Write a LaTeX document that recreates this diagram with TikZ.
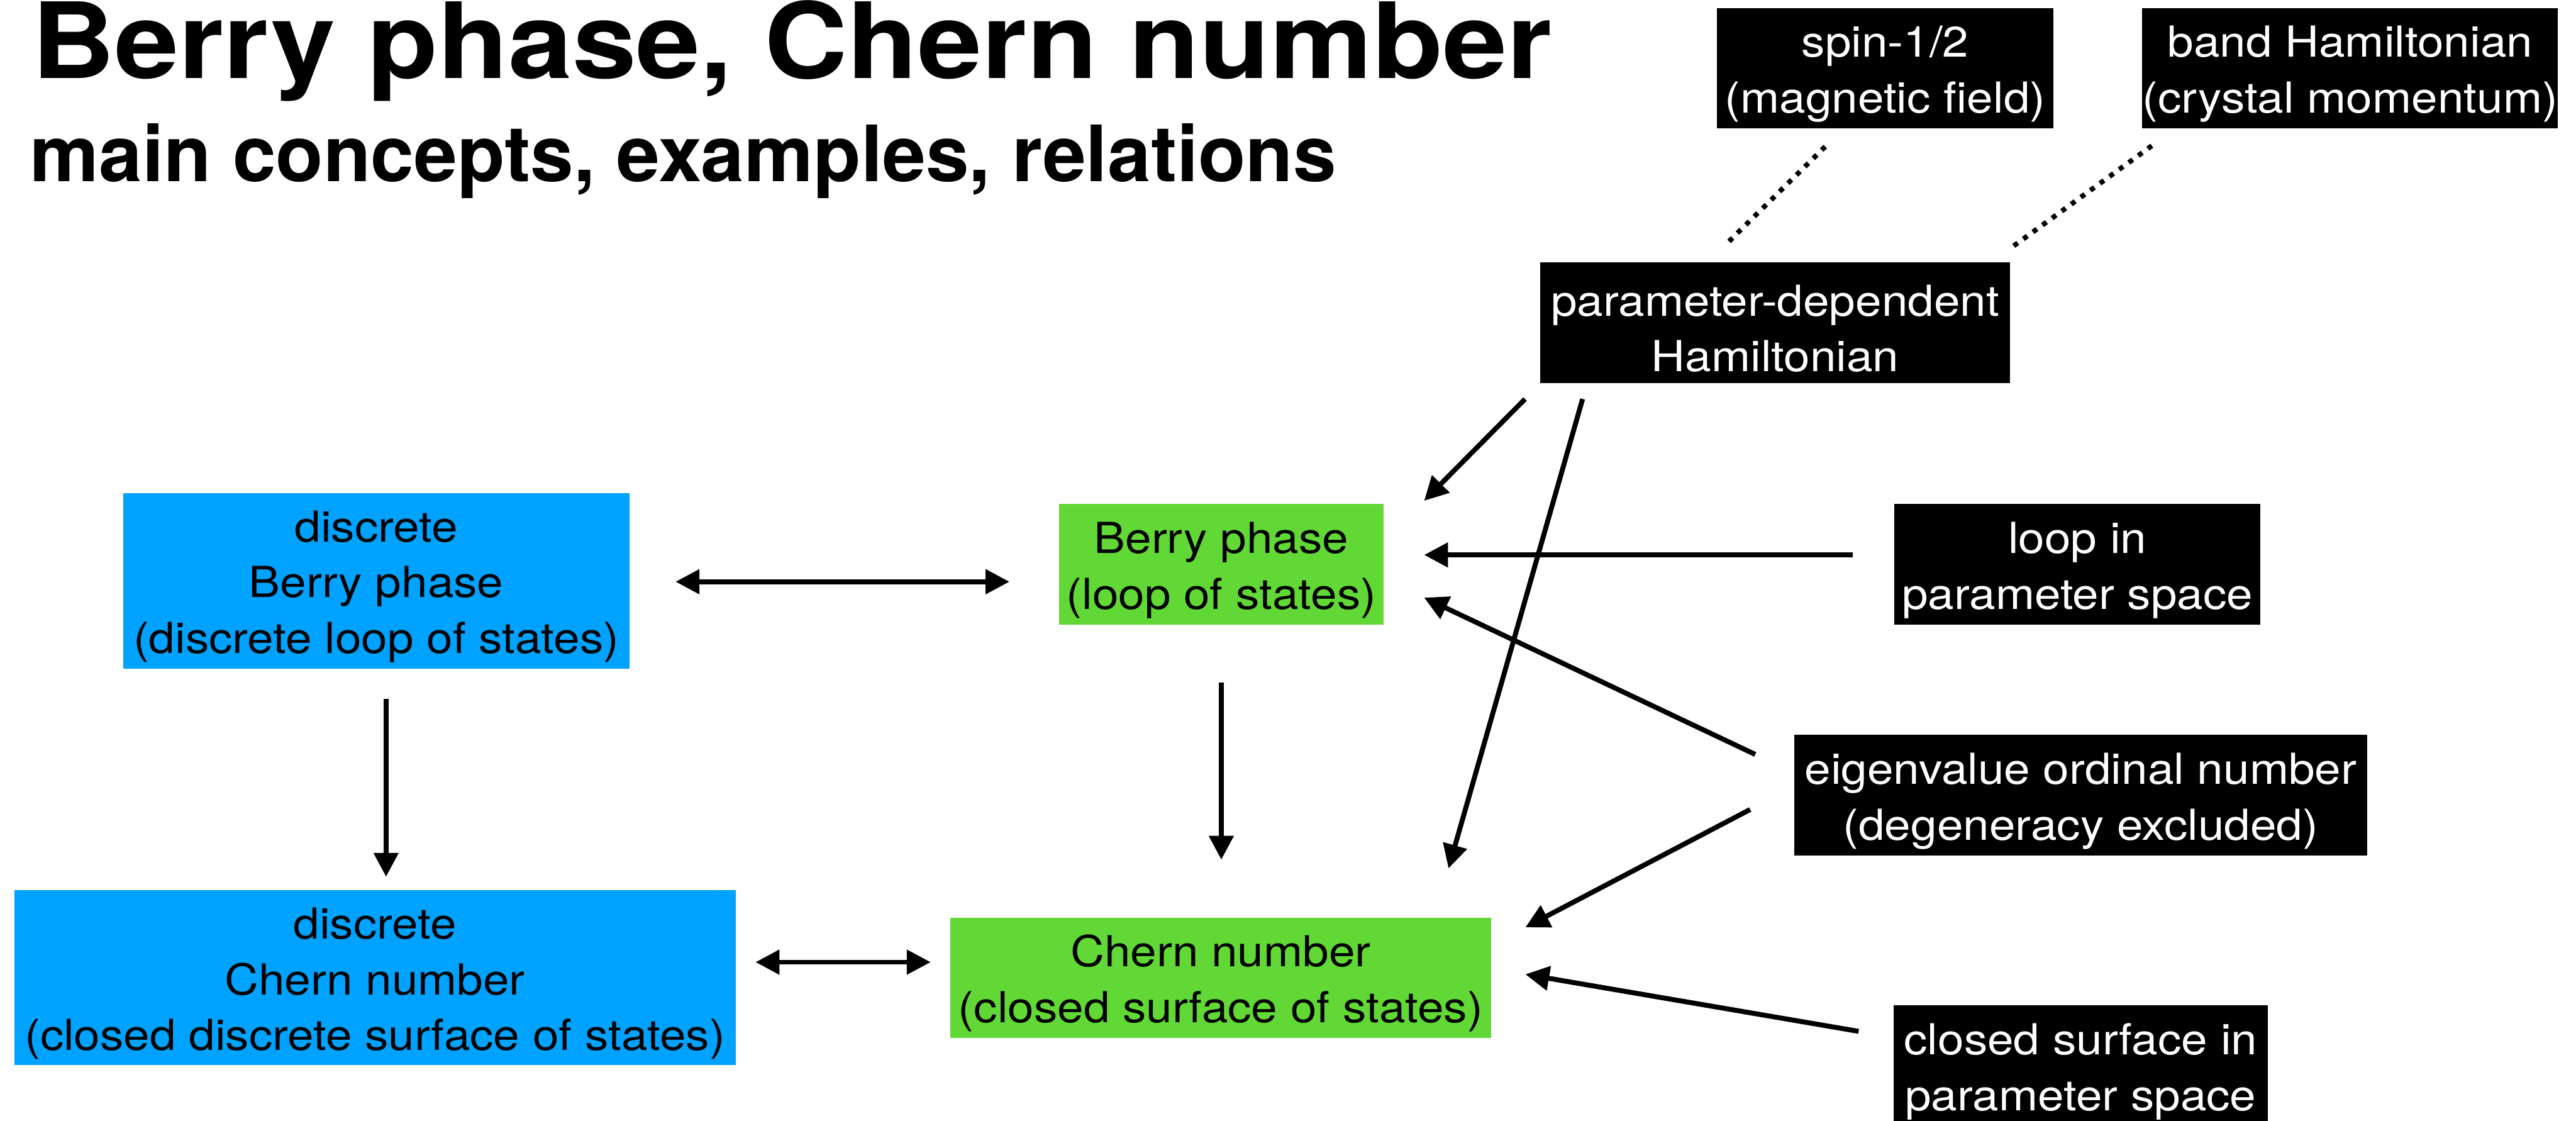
\documentclass[tikz,border=0pt]{standalone}
\usepackage{fontspec}
\setmainfont[FakeStretch=1.1]{TeX Gyre Heros}
\newfontfamily\headfont[FakeStretch=1.096]{TeX Gyre Heros}
\newfontfamily\subfont{TeX Gyre Heros}
\usetikzlibrary{arrows.meta}
\definecolor{kblue}{HTML}{00A2FF}
\definecolor{kgreen}{HTML}{61D836}
% taller first line, so the text sits a bit low in its box
\newcommand\lift{\rule{0pt}{26pt}}

\begin{document}
\begin{tikzpicture}[x=1pt,y=-1pt,
    box/.style={inner sep=0pt,align=center,font=\fontsize{26}{34}\selectfont},
    bluebox/.style={box,fill=kblue},
    greenbox/.style={box,fill=kgreen},
    blackbox/.style={box,fill=black,text=white},
    arr/.style={line width=3pt,-{Triangle[length=14.5pt,width=14.5pt]}},
    dbl/.style={line width=3pt,{Triangle[length=14.5pt,width=14.5pt]}-{Triangle[length=14.5pt,width=14.5pt]}},
    dots/.style={line width=3pt,dash pattern=on 3pt off 4.2pt}]
  \useasboundingbox (0,0) rectangle (1568,682);
  % heading
  \node[anchor=base west,inner sep=0pt,font=\headfont\bfseries\fontsize{64}{64}\selectfont] (title) at (19,47.5) {Berry phase, Chern number};
  \node[anchor=base west,inner sep=0pt,font=\subfont\bfseries\fontsize{47.3}{47.3}\selectfont] (subtitle) at (18,110.5) {main concepts, examples, relations};
  % discrete and continuous concepts
  \node[bluebox,minimum width=308pt,minimum height=107pt] (discB) at (229,353.5) {\lift discrete\\Berry phase\\(discrete loop of states)};
  \node[greenbox,minimum width=197.5pt,minimum height=73.3pt] (berry) at (743.4,343.4) {\lift Berry phase\\(loop of states)};
  \node[bluebox,minimum width=439pt,minimum height=106.5pt] (discC) at (228.2,595) {\lift discrete\\Chern number\\(closed discrete surface of states)};
  \node[greenbox,minimum width=329pt,minimum height=73.3pt] (chern) at (743,595) {\lift Chern number\\(closed surface of states)};
  % ingredients
  \node[blackbox,minimum width=286pt,minimum height=73.2pt] (paramH) at (1080.5,196.4) {\lift parameter-dependent\\Hamiltonian};
  \node[blackbox,minimum width=205pt,minimum height=73pt] (spin) at (1147.5,41.5) {\lift spin-1/2\\(magnetic field)};
  \node[blackbox,minimum width=253pt,minimum height=73pt] (band) at (1430.5,41.5) {\lift band Hamiltonian\\(crystal momentum)};
  \node[blackbox,minimum width=223pt,minimum height=73.5pt] (loop) at (1264.5,343.5) {\lift loop in\\parameter space};
  \node[blackbox,minimum width=349pt,minimum height=73.6pt] (eigen) at (1266.5,484) {\lift eigenvalue ordinal number\\(degeneracy excluded)};
  \node[blackbox,minimum width=228pt,minimum height=73.5pt] (closed) at (1266.5,648.5) {\lift closed surface in\\parameter space};

  \draw[dbl] ([shift={(28,0.5)}]discB.east) -- ([shift={(-30,10.6)}]berry.west);
  \draw[dbl] ([shift={(12,-9.5)}]discC.east) -- ([shift={(-11.8,-9.5)}]chern.west);
  \draw[arr] ([shift={(6,18)}]discB.south) -- ([shift={(6.8,-8)}]discC.north);
  \draw[arr] ([shift={(0,35)}]berry.south) -- ([shift={(0.4,-35)}]chern.north);
  \draw[arr] ([shift={(-9,9.6)}]paramH.south west) -- ([shift={(24.5,-1.8)}]berry.north east);
  \draw[arr] ([shift={(26,9.6)}]paramH.south west) -- ([shift={(-26,-29.7)}]chern.north east);
  \draw[arr] ([shift={(-25,-5.8)}]loop.west) -- ([shift={(24.5,-5.7)}]berry.east);
  \draw[arr] ([shift={(-23.4,-24.9)}]eigen.west) -- ([shift={(24.5,20.3)}]berry.east);
  \draw[arr] ([shift={(-26.5,8.6)}]eigen.west) -- ([shift={(20.8,-30.7)}]chern.east);
  \draw[arr] ([shift={(-21,-20.9)}]closed.west) -- ([shift={(20.8,-2.1)}]chern.east);
  \draw[dots] ([shift={(-36.5,11)}]spin.south) -- ([shift={(-29.8,-11)}]paramH.north);
  \draw[dots] ([shift={(6,10.5)}]band.south west) -- ([shift={(0,-8.5)}]paramH.north east);
\end{tikzpicture}
\end{document}
